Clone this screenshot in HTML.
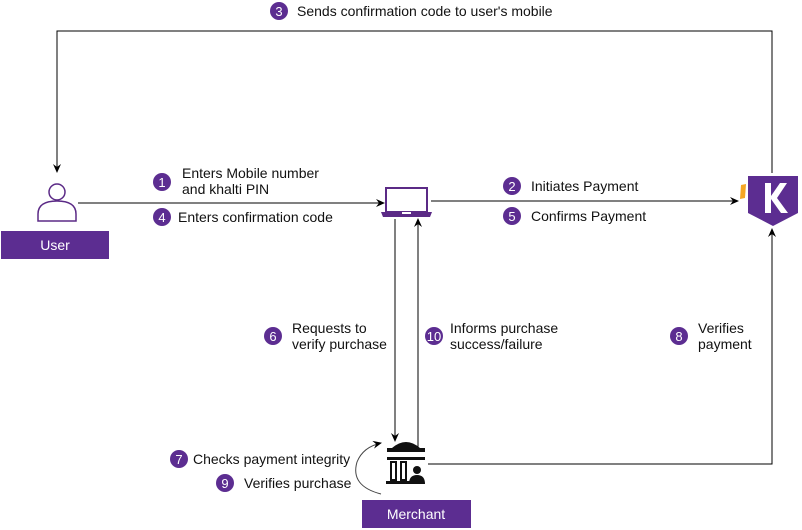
<!DOCTYPE html>
<html><head><style>body{margin:0;background:#fff}svg{display:block}text{font-family:"Liberation Sans",sans-serif;font-size:14px;fill:#111}</style></head>
<body>
<svg width="802" height="530" viewBox="0 0 802 530" xmlns="http://www.w3.org/2000/svg">
<defs><marker id="a" markerWidth="10" markerHeight="10" refX="8" refY="5" orient="auto" markerUnits="userSpaceOnUse"><path d="M0,1 L9,5 L0,9 L3,5 z" fill="#000"/></marker></defs>
<g stroke="#000" stroke-width="1" fill="none">
<polyline points="772,173 772,31 57,31 57,172" marker-end="url(#a)"/>
<line x1="78" y1="203" x2="384" y2="203" marker-end="url(#a)"/>
<line x1="431" y1="201" x2="738" y2="201" marker-end="url(#a)"/>
<line x1="395" y1="219" x2="395" y2="441" marker-end="url(#a)"/>
<line x1="418" y1="447" x2="418" y2="219" marker-end="url(#a)"/>
<polyline points="428,464 772,464 772,229" marker-end="url(#a)"/>
<path d="M381,494 Q350,486 357,462 Q363,447 381,443" stroke="#444" marker-end="url(#a)"/>
</g>
<g stroke="#5b2a86" stroke-width="1.5" fill="none">
<circle cx="57" cy="192" r="8"/>
<path d="M38,221 V214 Q38,201 57,201 Q76,201 76,214 V221 Z"/>
</g>
<rect x="1" y="231" width="108" height="28" fill="#5c2d91"/>
<text x="55" y="250" text-anchor="middle" style="fill:#fff">User</text>
<rect x="386" y="188" width="41" height="24" fill="none" stroke="#5b2a86" stroke-width="2"/>
<path d="M381,212 H432 L430,217 H383 Z" fill="#5b2a86"/>
<rect x="402" y="212" width="9" height="2" fill="#fff"/>
<path d="M748,176 H798 V213 L773,226 L748,213 Z" fill="#5c2d91"/>
<path d="M741,185 L746,184 L745,198 L740,199 Z" fill="#f6a623"/>
<path d="M765,183 H771 V196 L780,183 H787 L777,198 L788,213 H781 L771,199 V213 H765 Z" fill="#fff"/>
<g fill="#111">
<path d="M387,448 H425 V452 H387 Z M392,448 Q406,436 420,448 Z" />
<rect x="387" y="457" width="38" height="3"/>
<rect x="391" y="462" width="5" height="18" fill="none" stroke="#111" stroke-width="2"/>
<rect x="401" y="462" width="5" height="18" fill="none" stroke="#111" stroke-width="2"/>
<rect x="386" y="481" width="24" height="3"/>
<circle cx="417" cy="470" r="4"/>
<path d="M409,484 Q409,475 417,475 Q425,475 425,484 Z"/>
</g>
<rect x="362" y="500" width="109" height="28" fill="#5c2d91"/>
<text x="416" y="519" text-anchor="middle" style="fill:#fff">Merchant</text>
<g fill="#5c2d91">
<circle cx="279" cy="11" r="9"/><circle cx="162" cy="182" r="9"/><circle cx="162" cy="217" r="9"/>
<circle cx="512" cy="186" r="9"/><circle cx="512" cy="216" r="9"/><circle cx="273" cy="336" r="9"/>
<circle cx="434" cy="336" r="9"/><circle cx="679" cy="336" r="9"/><circle cx="179" cy="459" r="9"/><circle cx="225" cy="483" r="9"/>
</g>
<g text-anchor="middle">
<text x="279" y="16" style="fill:#fff;font-size:13px">3</text>
<text x="162" y="187" style="fill:#fff;font-size:13px">1</text>
<text x="162" y="222" style="fill:#fff;font-size:13px">4</text>
<text x="512" y="191" style="fill:#fff;font-size:13px">2</text>
<text x="512" y="221" style="fill:#fff;font-size:13px">5</text>
<text x="273" y="341" style="fill:#fff;font-size:13px">6</text>
<text x="434" y="341" style="fill:#fff;font-size:13px">10</text>
<text x="679" y="341" style="fill:#fff;font-size:13px">8</text>
<text x="179" y="464" style="fill:#fff;font-size:13px">7</text>
<text x="225" y="488" style="fill:#fff;font-size:13px">9</text>
</g>
<text x="297" y="16">Sends confirmation code to user's mobile</text>
<text x="182" y="178">Enters Mobile number</text>
<text x="182" y="194">and khalti PIN</text>
<text x="178" y="222">Enters confirmation code</text>
<text x="531" y="191">Initiates Payment</text>
<text x="531" y="221">Confirms Payment</text>
<text x="292" y="333">Requests to</text>
<text x="292" y="349">verify purchase</text>
<text x="450" y="333">Informs purchase</text>
<text x="450" y="349">success/failure</text>
<text x="698" y="333">Verifies</text>
<text x="698" y="349">payment</text>
<text x="193" y="464">Checks payment integrity</text>
<text x="244" y="488">Verifies purchase</text>
</svg>
</body></html>
